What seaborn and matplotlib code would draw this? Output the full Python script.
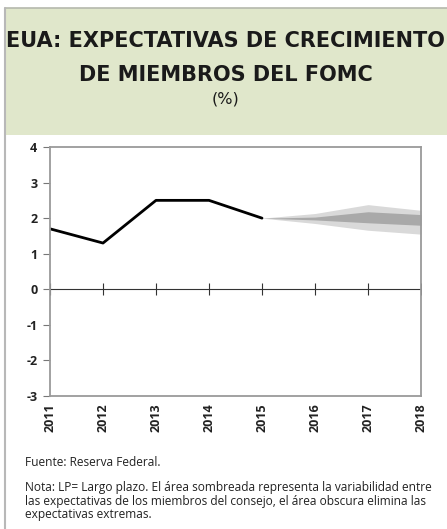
import numpy as np
import pandas as pd
import matplotlib
matplotlib.use('Agg')
import matplotlib.pyplot as plt
import seaborn as sns
from matplotlib.patches import Rectangle
from matplotlib.lines import Line2D

# historical growth (%)
hist_years = [2011, 2012, 2013, 2014, 2015]
hist_values = [1.7, 1.3, 2.5, 2.5, 2.0]

# FOMC projections: full range (light) and central tendency (dark)
proj_years = [2015, 2016, 2017, 2018]
range_low = [2.0, 1.85, 1.66, 1.55]
range_high = [2.0, 2.13, 2.38, 2.22]
central_low = [2.0, 1.95, 1.87, 1.80]
central_high = [2.0, 2.03, 2.18, 2.10]

year_ticks = [2011, 2012, 2013, 2014, 2015, 2016, 2017, 2018]
y_ticks = [4, 3, 2, 1, 0, -1, -2, -3]

title_lines = ['EUA: EXPECTATIVAS DE CRECIMIENTO', 'DE MIEMBROS DEL FOMC']
source = 'Fuente: Reserva Federal.'
note = ('Nota: LP= Largo plazo. El área sombreada representa la variabilidad entre\n'
        'las expectativas de los miembros del consejo, el área obscura elimina las\n'
        'expectativas extremas.')

sns.set_style('white')
plt.rcParams['font.family'] = ['Open Sans', 'DejaVu Sans']

W, H = 447, 529
fig = plt.figure(figsize=(W / 100, H / 100), dpi=100)

# header band
fig.patches.append(Rectangle((5 / W, 1 - 135 / H), 1, 127 / H, transform=fig.transFigure,
                             facecolor='#e0e7cb', edgecolor='none', zorder=0))
fig.lines.append(Line2D([5 / W, 1], [1 - 8 / H, 1 - 8 / H], transform=fig.transFigure,
                        color='#b5b9ad', lw=1.2))
fig.lines.append(Line2D([5 / W, 5 / W], [0, 1 - 8 / H], transform=fig.transFigure,
                        color='#b8b8b8', lw=1.5))

fig.text(0.505, 1 - 41 / H, title_lines[0], ha='center', va='center',
         fontsize=15, fontweight='bold', color='#1a1a1a', family='DejaVu Sans')
fig.text(0.505, 1 - 75 / H, title_lines[1], ha='center', va='center',
         fontsize=15, fontweight='bold', color='#1a1a1a', family='DejaVu Sans')
fig.text(0.505, 1 - 99 / H, '(%)', ha='center', va='center',
         fontsize=11.5, color='#1a1a1a', family='DejaVu Sans')

ax = fig.add_axes([50 / W, 1 - 396 / H, 371 / W, 249 / H])

ax.fill_between(proj_years, range_low, range_high, color='#d9d9d9', lw=0)
ax.fill_between(proj_years, central_low, central_high, color='#a9a9a9', lw=0)

df = pd.DataFrame({'year': hist_years, 'value': hist_values})
sns.lineplot(data=df, x='year', y='value', color='black', lw=2, ax=ax)

ax.axhline(0, color='#333333', lw=0.8)
ax.plot(year_ticks, np.zeros(len(year_ticks)), ls='none', marker='|',
        color='#333333', ms=9, mew=0.8)

ax.set_xlim(2011, 2018)
ax.set_ylim(-3, 4)
ax.set_xticks(year_ticks)
ax.set_xticklabels([str(y) for y in year_ticks], rotation=90, fontsize=9,
                   fontweight='bold', color='#222222')
ax.set_yticks(y_ticks)
ax.set_yticklabels([str(v) if v >= 0 else '-' + str(-v) for v in y_ticks],
                   fontsize=9, fontweight='bold', color='#222222')
ax.tick_params(axis='x', length=0, pad=5)
ax.tick_params(axis='y', length=5, width=0.8, color='#777777', left=True, pad=4)
ax.set_xlabel('')
ax.set_ylabel('')
for s in ax.spines.values():
    s.set_color('#9a9a9a')
    s.set_linewidth(1.3)

fig.text(25 / W, 1 - 463 / H, source, ha='left', va='center', fontsize=8.6,
         color='#222222')
fig.text(25 / W, 1 - 481 / H, note, ha='left', va='top', fontsize=8.6,
         color='#222222', linespacing=1.05)

fig.savefig('out.png', dpi=100)
